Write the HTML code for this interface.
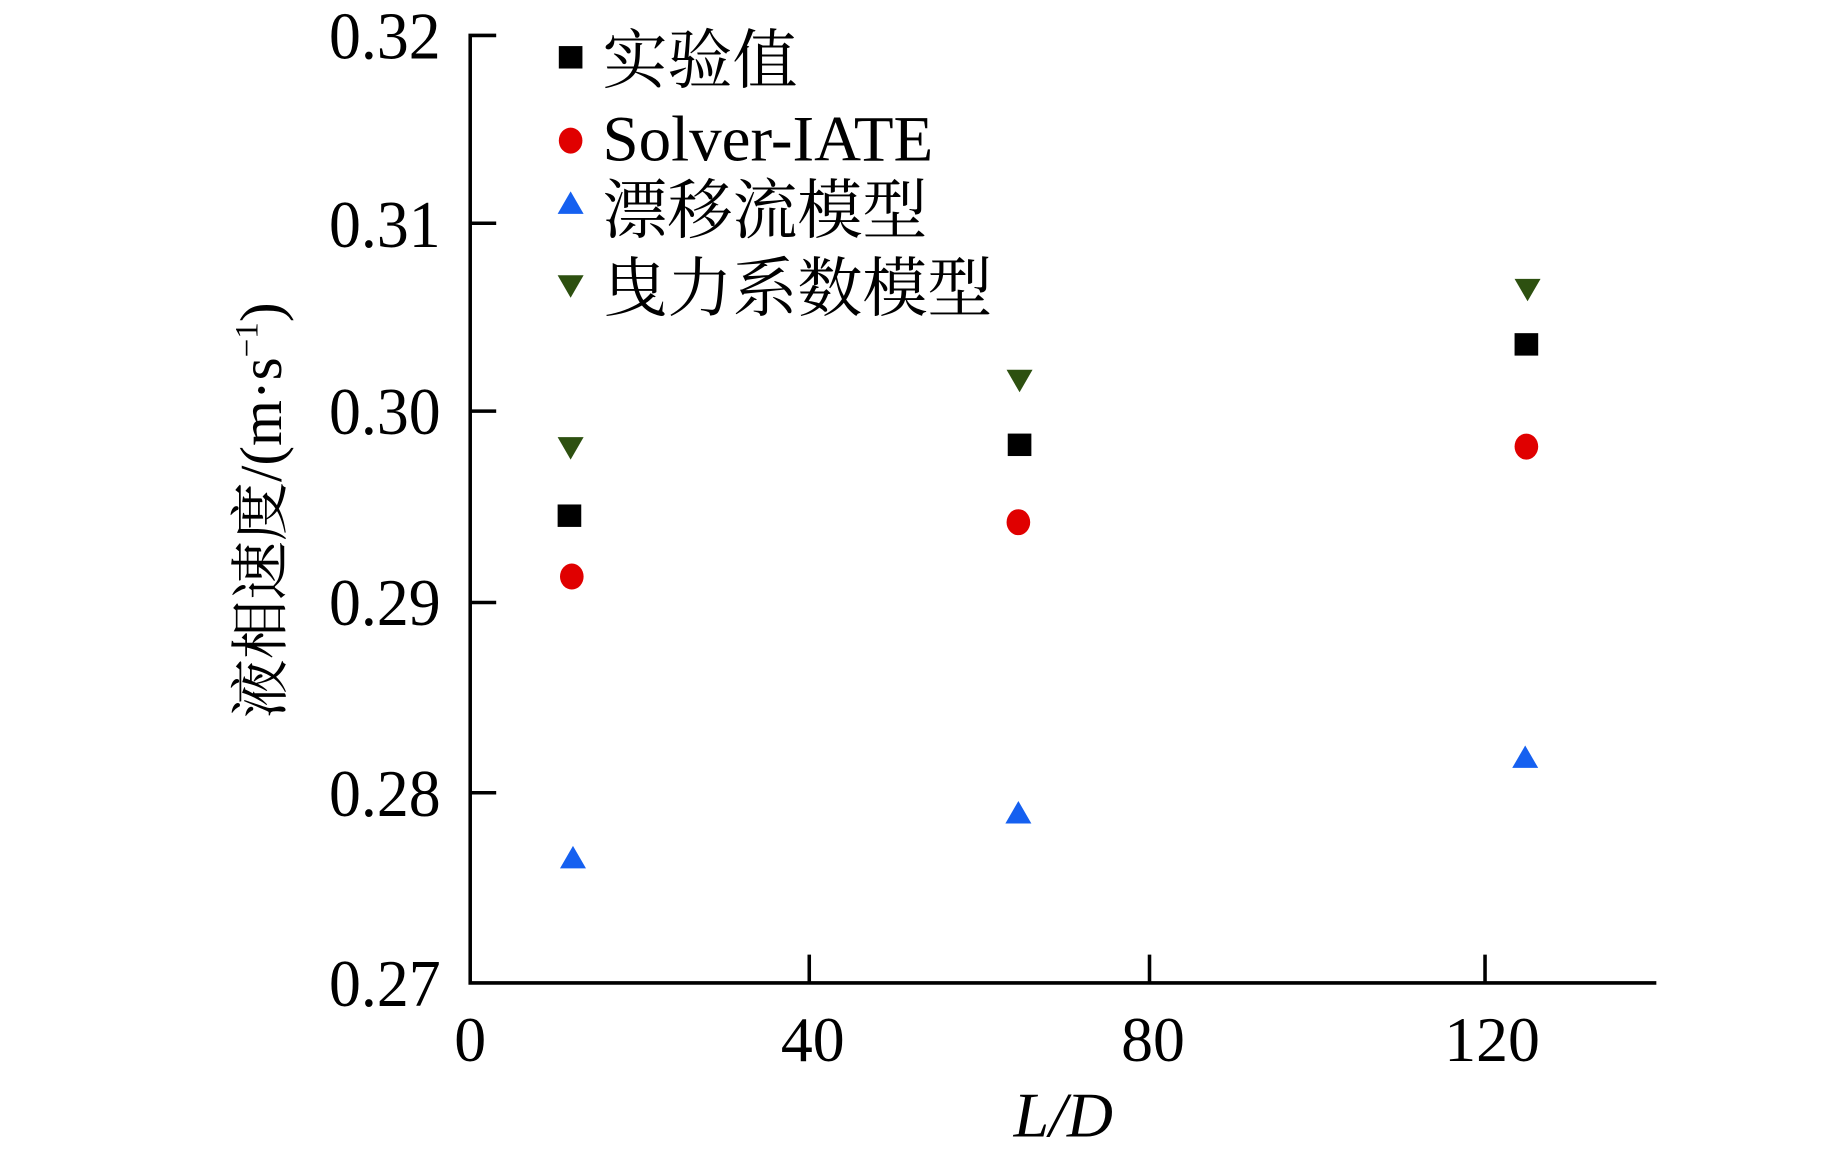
<!DOCTYPE html>
<html><head><meta charset="utf-8"><style>html,body{margin:0;padding:0;background:#fff}svg{display:block}</style></head>
<body>
<svg width="1843" height="1150" viewBox="0 0 1560 973.4" preserveAspectRatio="none" xmlns="http://www.w3.org/2000/svg">
<rect width="1560" height="974" fill="#fff"/>
<g stroke="#000" stroke-width="3" fill="none">
<path d="M420 30 H398 V832 H1402"/>
<path d="M398 189 H420 M398 348 H420 M398 510 H420 M398 671 H420"/>
<path d="M685 832 V808 M973 832 V808 M1257 832 V808"/>
</g>
<g font-family="Liberation Serif, serif" font-size="54" fill="#000" text-anchor="end" transform="scale(1,1.05)">
<text x="373" y="47">0.32</text>
<text x="373" y="199">0.31</text>
<text x="373" y="350">0.30</text>
<text x="373" y="504">0.29</text>
<text x="373" y="658">0.28</text>
<text x="373" y="811">0.27</text>
</g>
<g font-family="Liberation Serif, serif" font-size="54" fill="#000" text-anchor="middle">
<text x="398" y="898">0</text>
<text x="688" y="898">40</text>
<text x="976" y="898">80</text>
<text x="1263" y="898">120</text>
<text x="900" y="962" font-style="italic">L/D</text>
</g>
<text transform="translate(238,432) rotate(-90)" text-anchor="middle" font-family="Liberation Serif, 'Noto Serif CJK SC', serif" font-size="50" fill="#000">液相速度/(m·s<tspan font-size="28" dy="-20">−1</tspan><tspan dy="20">)</tspan></text>
<g font-family="Liberation Serif, 'Noto Serif CJK SC', serif" font-size="55" fill="#000">
<text x="510" y="70">实验值</text>
<text x="510" y="136">Solver-IATE</text>
<text x="510" y="197">漂移流模型</text>
<text x="510" y="263">曳力系数模型</text>
</g>
<g fill="#000">
<rect x="473" y="39" width="20" height="19"/>
<rect x="472" y="427" width="20" height="19"/>
<rect x="853" y="367" width="20" height="19"/>
<rect x="1282" y="282" width="20" height="19"/>
</g>
<g fill="#e00000">
<ellipse cx="483" cy="119" rx="10" ry="11"/>
<ellipse cx="484" cy="488" rx="10" ry="11"/>
<ellipse cx="862" cy="442" rx="10" ry="11"/>
<ellipse cx="1292" cy="378" rx="10" ry="11"/>
</g>
<g fill="#1560f0">
<path d="M483 162 l11 19 h-22z"/>
<path d="M485 716 l11 19 h-22z"/>
<path d="M862 678 l11 19 h-22z"/>
<path d="M1291 631 l11 19 h-22z"/>
</g>
<g fill="#2d5010">
<path d="M483 252 l11 -19 h-22z"/>
<path d="M483 389 l11 -19 h-22z"/>
<path d="M863 332 l11 -19 h-22z"/>
<path d="M1293 255 l11 -19 h-22z"/>
</g>
</svg>
</body></html>
